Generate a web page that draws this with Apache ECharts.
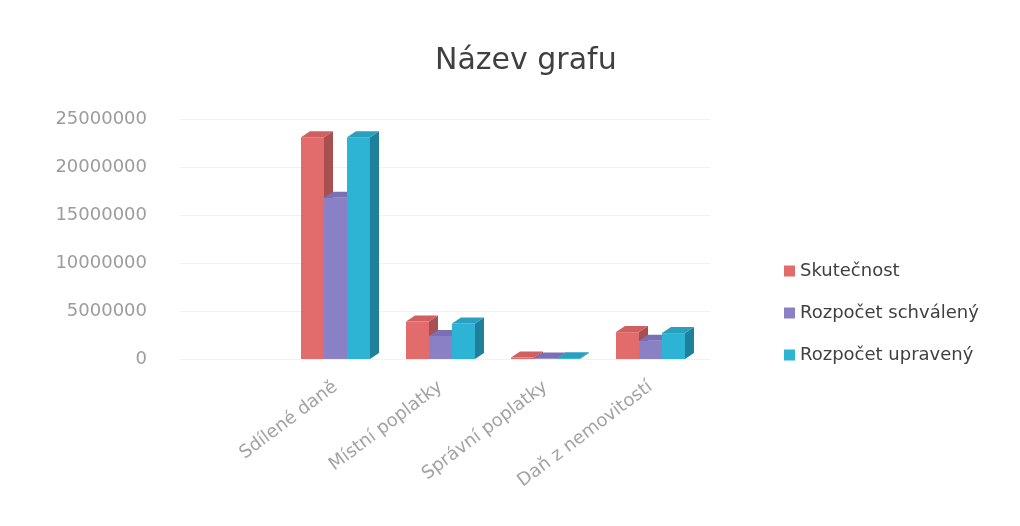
<!DOCTYPE html>
<html>
<head>
<meta charset="utf-8">
<script src="https://cdn.jsdelivr.net/npm/echarts@6/dist/echarts.min.js"></script>
<style>
  html, body { margin: 0; padding: 0; background: #fff; }
  #chart { width: 1020px; height: 526px; }
</style>
</head>
<body>
<div id="chart"></div>
<script>
// Data
const categories = ['Sdílené daně', 'Místní poplatky', 'Správní poplatky', 'Daň z nemovitostí']
const seriesNames = ['Skutečnost', 'Rozpočet schválený', 'Rozpočet upravený']
const skutecnost = [23100000, 3900000, 150000, 2800000]
const schvaleny = [16800000, 2400000, 60000, 1900000]
const upraveny = [23100000, 3700000, 90000, 2700000]
const yTicks = [0, 5000000, 10000000, 15000000, 20000000, 25000000]

// Colours: front, top, side
const palette = [
    { front: '#e26b6c', top: '#cf5f61', side: '#a84f52' },
    { front: '#8a80c6', top: '#7a70b6', side: '#635a9a' },
    { front: '#2db3d4', top: '#2aa0bf', side: '#1f809b' }
]

const BAR_W = 23
const DX = 9
const DY = -6

// 3D-ish bar: side face, front face, top face
function makeRender(idx) {
    return function (params, api) {
        const cat = api.value(0)
        const val = api.value(1)
        const top = api.coord([cat, val])
        const base = api.coord([cat, 0])
        const x = top[0] - 1.5 * BAR_W + idx * BAR_W
        const yT = top[1]
        const yB = base[1]
        const c = palette[idx]
        return {
            type: 'group',
            children: [
                {
                    type: 'polygon',
                    shape: { points: [[x + BAR_W, yT], [x + BAR_W + DX, yT + DY], [x + BAR_W + DX, yB + DY], [x + BAR_W, yB]] },
                    style: { fill: c.side }
                },
                {
                    type: 'rect',
                    shape: { x: x, y: yT, width: BAR_W, height: yB - yT },
                    style: { fill: c.front }
                },
                {
                    type: 'polygon',
                    shape: { points: [[x, yT], [x + DX, yT + DY], [x + BAR_W + DX, yT + DY], [x + BAR_W, yT]] },
                    style: { fill: c.top }
                }
            ]
        }
    }
}

const allValues = [skutecnost, schvaleny, upraveny]

const chart = echarts.init(document.getElementById('chart'))

const option = {
    backgroundColor: '#ffffff',
    animation: false,
    title: {
        text: 'Název grafu',
        left: 430,
        top: 41,
        textStyle: {
            fontFamily: 'DejaVu Sans',
            fontSize: 30,
            fontWeight: 'normal',
            color: '#404040'
        }
    },
    legend: {
        orient: 'vertical',
        left: 779,
        top: 257,
        itemGap: 24,
        itemWidth: 11,
        itemHeight: 11,
        icon: 'rect',
        data: seriesNames,
        textStyle: {
            fontFamily: 'DejaVu Sans',
            fontSize: 18,
            color: '#404040'
        }
    },
    grid: [
        { left: 180, top: 119, width: 530, bottom: 526 - 359 },
        { left: 283, top: 119, width: 420, bottom: 526 - 359 }
    ],
    xAxis: [
        { gridIndex: 0, type: 'value', show: false, min: 0, max: 1 },
        {
            gridIndex: 1,
            type: 'category',
            data: categories,
            axisLine: { show: false },
            axisTick: { show: false },
            axisLabel: {
                rotate: 37,
                margin: 26,
                interval: 0,
                fontFamily: 'DejaVu Sans',
                fontSize: 18,
                color: '#a3a3a3'
            }
        }
    ],
    yAxis: [
        {
            gridIndex: 0,
            type: 'value',
            min: yTicks[0],
            max: yTicks[yTicks.length - 1],
            interval: yTicks[1] - yTicks[0],
            axisLine: { show: false },
            axisTick: { show: false },
            splitLine: { lineStyle: { color: '#f1f1f1', width: 1 } },
            axisLabel: {
                margin: 33,
                fontFamily: 'DejaVu Sans',
                fontSize: 18,
                color: '#9c9c9c',
                formatter: v => String(v)
            }
        },
        {
            gridIndex: 1,
            type: 'value',
            min: yTicks[0],
            max: yTicks[yTicks.length - 1],
            show: false
        }
    ],
    series: seriesNames.map((name, i) => ({
        name: name,
        type: 'custom',
        xAxisIndex: 1,
        yAxisIndex: 1,
        itemStyle: { color: palette[i].front },
        renderItem: makeRender(i),
        encode: { x: 0, y: 1 },
        data: allValues[i].map((v, k) => [k, v])
    }))
}

chart.setOption(option)
</script>
</body>
</html>
